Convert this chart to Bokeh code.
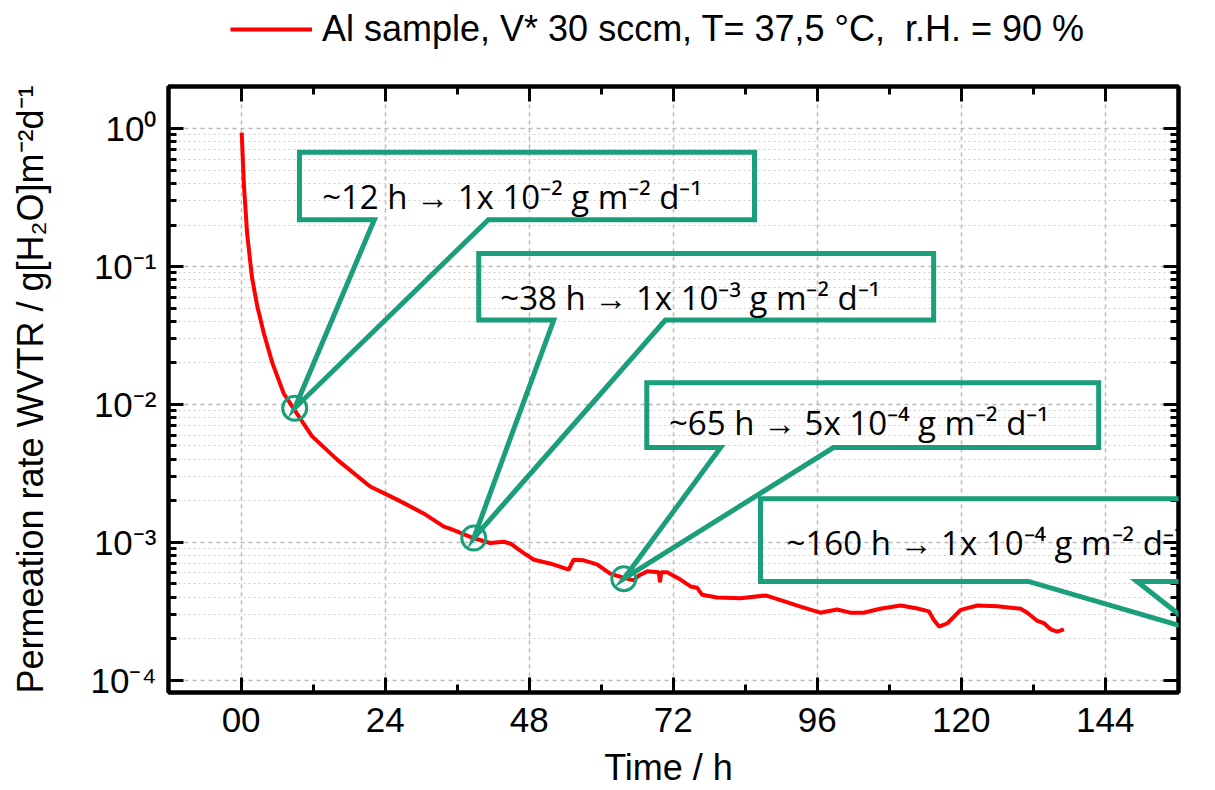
from bokeh.plotting import figure
from bokeh.layouts import column
from bokeh.models import (Range1d, FixedTicker, LinearAxis, LogAxis, Label, Legend,
                          LegendItem, PolyAnnotation, CustomJSTickFormatter, ColumnDataSource)
from bokeh.embed import file_html
from bokeh.resources import INLINE

# ---------------- data ----------------
time_h = [0.1, 0.45, 1.0, 1.8, 2.7, 3.8, 5.2, 7.1, 9.05, 11.8, 16.0, 21.5, 26.0, 30.4,
          33.8, 34.9, 38.8, 41.5, 43.8, 44.9, 47.1, 48.8, 51.6, 54.6, 55.4, 57.1, 59.3,
          61.5, 63.8, 65.4, 66.3, 67.7, 69.6, 69.8, 70.0, 71.0, 73.2, 74.9, 76.0, 76.8,
          79.3, 83.2, 87.4, 90.4, 93.2, 96.5, 99.3, 101.5, 103.7, 106.5, 109.9, 112.7,
          114.6, 115.4, 116.3, 117.7, 119.9, 122.7, 126.0, 129.9, 131.0, 132.7, 133.8,
          134.9, 136.0, 137.1]
wvtr = [0.935, 0.40, 0.174, 0.0841, 0.0513, 0.0327, 0.0200, 0.0120, 0.00891, 0.00589,
        0.00398, 0.00254, 0.00204, 0.00162, 0.00130, 0.00125, 0.00107, 0.000989,
        0.00101, 0.000977, 0.000836, 0.000748, 0.000700, 0.000634, 0.000748, 0.000741,
        0.000692, 0.000593, 0.000552, 0.000530, 0.000575, 0.000617, 0.000607, 0.000513,
        0.000607, 0.000607, 0.000537, 0.000479, 0.000468, 0.000417, 0.000398, 0.000393,
        0.000412, 0.000375, 0.000342, 0.000309, 0.000326, 0.000309, 0.000309, 0.000330,
        0.000348, 0.000331, 0.000316, 0.000275, 0.000245, 0.000259, 0.000324, 0.000348,
        0.000344, 0.000330, 0.000309, 0.000269, 0.000259, 0.000234, 0.000225, 0.000234]

legend_label = "Al sample, V* 30 sccm, T= 37,5 °C,  r.H. = 90 %"
x_title = "Time  / h"
y_title = "Permeation rate WVTR / g[H₂O]m⁻²d⁻¹"

x_ticks = [0, 24, 48, 72, 96, 120, 144]
x_tick_labels = ["00", "24", "48", "72", "96", "120", "144"]
x_minor_ticks = [12, 36, 60, 84, 108, 132]
y_ticks = [1e-4, 1e-3, 1e-2, 1e-1, 1.0]
y_tick_labels = ["10⁻⁴", "10⁻³", "10⁻²", "10⁻¹", "10⁰"]

# callouts: marked points on the curve and their boxes
callout_texts = ["~12 h → 1x 10⁻² g m⁻² d⁻¹",
                 "~38 h → 1x 10⁻³ g m⁻² d⁻¹",
                 "~65 h → 5x 10⁻⁴ g m⁻² d⁻¹",
                 "~160 h → 1x 10⁻⁴ g m⁻² d⁻¹"]
tip_t = [8.93, 38.77, 63.77, 159.9]
tip_v = [0.00939, 0.001074, 0.000545, 0.000225]
circle_t = [8.93, 38.77, 63.77]
circle_v = [0.00939, 0.001074, 0.000545]
box_left_t = [9.72, 39.6, 67.6, 86.55]
box_right_t = [85.55, 115.4, 142.9, 162.05]
box_top_v = [0.6735, 0.1244, 0.01439, 0.00207]
box_bottom_v = [0.2186, 0.0409, 0.004864, 0.000521]
base_left_t = [22.2, 52.1, 79.9, 131.2]
base_right_t = [41.2, 70.7, 98.7, 149.3]
text_t = [13.5, 43.2, 71.3, 90.9]
text_v = [0.3234, 0.0594, 0.00738, 0.000998]

# ---------------- styling ----------------
TEAL = "#1b9e7a"
RED = "#ff0000"
AX_FONT = "Liberation Sans"
CALLOUT_FONT = "Open Sans"

src = ColumnDataSource(data=dict(t=time_h, v=wvtr))

# --- legend strip above the plot (its frame is aligned with the plot frame) ---
LEG_H = 60
lf = figure(width=1215, height=LEG_H, x_range=Range1d(0, 1), y_range=Range1d(5, 6),
            output_backend="svg", toolbar_location=None, min_border=0,
            x_axis_location=None, y_axis_location=None)
lf.outline_line_color = None
lf.xgrid.visible = False
lf.ygrid.visible = False
sample_r = lf.line("t", "v", source=src, line_color=RED, line_width=4)
legend = Legend(items=[LegendItem(label=legend_label, renderers=[sample_r])],
                location=(62, 10), orientation="horizontal",
                border_line_alpha=0, background_fill_alpha=0,
                glyph_width=82, glyph_height=36, label_height=36,
                label_standoff=10, padding=0, margin=0, spacing=0,
                label_text_font=AX_FONT, label_text_font_size="36px",
                label_text_color="black")
lf.add_layout(legend, "center")

# --- main plot ---
p = figure(width=1215, height=790 - LEG_H,
           x_range=Range1d(-12.1, 156.2), y_range=Range1d(8.15e-5, 2.02),
           y_axis_type="log", output_backend="svg", toolbar_location=None,
           min_border_left=168, min_border_right=37, min_border_top=86 - LEG_H,
           min_border_bottom=97)
p.background_fill_color = "white"
p.border_fill_color = "white"
p.outline_line_color = "black"
p.outline_line_width = 4

bottom_axis = p.below[0]
left_axis = p.left[0]

y_minor_ticks = [m * 10.0 ** e for e in range(-4, 0) for m in range(2, 10)]
yticker = FixedTicker(ticks=y_ticks, minor_ticks=y_minor_ticks)
xticker = FixedTicker(ticks=x_ticks, minor_ticks=x_minor_ticks)

bottom_axis.ticker = xticker
left_axis.ticker = yticker
bottom_axis.major_label_overrides = dict(zip(x_ticks, x_tick_labels))
left_axis.major_label_overrides = dict(zip(y_ticks, y_tick_labels))

top_axis = LinearAxis(ticker=xticker,
                      formatter=CustomJSTickFormatter(code="return ''"))
right_axis = LogAxis(ticker=yticker,
                     formatter=CustomJSTickFormatter(code="return ''"))
p.add_layout(top_axis, "above")
p.add_layout(right_axis, "right")

for ax in [bottom_axis, left_axis, top_axis, right_axis]:
    ax.axis_line_width = 4
    ax.axis_line_color = "black"
    ax.major_tick_line_width = 3
    ax.minor_tick_line_width = 3
    ax.major_tick_line_color = "black"
    ax.minor_tick_line_color = "black"
    ax.major_tick_in = 15
    ax.major_tick_out = 0
    ax.minor_tick_in = 8
    ax.minor_tick_out = 0
    ax.major_label_text_font = AX_FONT
    ax.major_label_text_font_size = "35px"
    ax.major_label_text_color = "black"

for ax in [top_axis, right_axis]:
    ax.major_label_text_font_size = "0px"
    ax.major_label_standoff = 0

bottom_axis.major_label_standoff = 15
left_axis.major_label_standoff = 12
bottom_axis.axis_label = x_title
left_axis.axis_label = y_title
for ax in [bottom_axis, left_axis]:
    ax.axis_label_text_font = AX_FONT
    ax.axis_label_text_font_size = "36px"
    ax.axis_label_text_font_style = "normal"
    ax.axis_label_text_color = "black"
bottom_axis.axis_label_standoff = 12
left_axis.axis_label_standoff = 37

# grids
p.xgrid.grid_line_color = "#b8b8b8"
p.xgrid.grid_line_dash = "4 4"
p.xgrid.grid_line_width = 1.5
p.ygrid.grid_line_color = "#b8b8b8"
p.ygrid.grid_line_dash = "4 4"
p.ygrid.grid_line_width = 1.5
p.ygrid.minor_grid_line_color = "#cfcfcf"
p.ygrid.minor_grid_line_dash = "2 3"
p.ygrid.minor_grid_line_width = 1.2

# data curve
line_r = p.line("t", "v", source=src, line_color=RED, line_width=4)

# callouts
for i in range(len(callout_texts)):
    xs = [box_left_t[i], box_right_t[i], box_right_t[i], base_right_t[i], tip_t[i],
          base_left_t[i], box_left_t[i]]
    ys = [box_top_v[i], box_top_v[i], box_bottom_v[i], box_bottom_v[i], tip_v[i],
          box_bottom_v[i], box_bottom_v[i]]
    p.add_layout(PolyAnnotation(xs=xs, ys=ys, xs_units="data", ys_units="data",
                                fill_alpha=0, line_color=TEAL, line_alpha=1.0,
                                line_width=5, line_join="miter"))
    p.add_layout(Label(x=text_t[i], y=text_v[i], x_units="data", y_units="data",
                       text=callout_texts[i], text_font=CALLOUT_FONT,
                       text_font_size="33px", text_color="black",
                       text_baseline="alphabetic", text_align="left"))

p.scatter(circle_t, circle_v, size=24, marker="circle", fill_alpha=0,
          line_color=TEAL, line_width=3)

layout = column(lf, p, spacing=0)
open("out.html", "w").write(file_html(layout, INLINE))
